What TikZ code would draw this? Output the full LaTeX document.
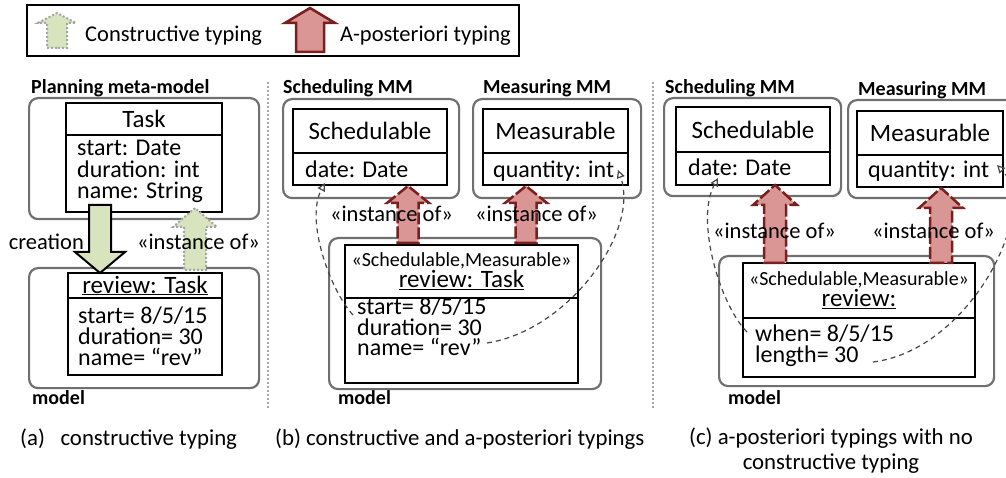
\documentclass[tikz,border=0pt]{standalone}
\usepackage{fontspec}
\setmainfont{Carlito}
\usetikzlibrary{positioning,calc,arrows.meta}

\definecolor{mmgray}{RGB}{112,112,112}
\definecolor{creagreen}{RGB}{215,228,189}
\definecolor{postred}{RGB}{217,150,148}
\definecolor{postdark}{RGB}{122,30,30}
\definecolor{dotgray}{RGB}{165,165,165}
\definecolor{depgray}{RGB}{70,70,70}

\newcommand{\stereofont}{\fontsize{20}{20}\selectfont}
\setlength{\lineskiplimit}{-30pt}

\begin{document}
\begin{tikzpicture}[x=1pt, y=-1pt,
    mmbox/.style={draw=mmgray, line width=2.2pt, rounded corners=9pt, anchor=north west, inner sep=0pt},
    clshead/.style={draw, line width=2pt, anchor=north west, inner sep=0pt, outer sep=0pt, align=center,
      font=\fontsize{25}{21}\selectfont},
    clsattr/.style={draw, line width=2pt, inner sep=0pt, outer sep=0pt},
    attrtext/.style={inner sep=0pt, align=left, font=\fontsize{24}{#1}\selectfont},
    attrtext/.default=20.5,
    title/.style={inner sep=0pt, anchor=base west, font=\fontsize{20}{20}\selectfont\bfseries},
    lbl/.style={inner sep=0pt, anchor=base, font=\fontsize{22.5}{24}\selectfont},
    caption/.style={inner sep=0pt, align=center, font=\fontsize{22.8}{25}\selectfont},
    blockarrow/.style args={#1/#2/#3}{to path={
      -- ($(\tikztostart)+(-#1,0)$) -- ($(\tikztotarget)+(-#1,#3)$)
      -- ($(\tikztotarget)+(-#2,#3)$) -- (\tikztotarget)
      -- ($(\tikztotarget)+(#2,#3)$) -- ($(\tikztotarget)+(#1,#3)$)
      -- ($(\tikztostart)+(#1,0)$) -- cycle}},
    creation/.style={draw, line width=2pt, fill=creagreen},
    constructive/.style={draw=dotgray, line width=2pt, dash pattern=on 2pt off 2pt, fill=creagreen},
    aposteriori/.style={draw=postdark, line width=2.5pt, dash pattern=on 12pt off 3pt, fill=postred},
    instof/.style={draw=depgray, line width=1.2pt, dash pattern=on 5pt off 4pt,
      -{Triangle[open,length=8pt,width=8pt]}},
    sepline/.style={draw=dotgray, line width=1.2pt, dash pattern=on 2pt off 2pt},
  ]
  \useasboundingbox (0,0) rectangle (1006,478);

  % legend
  \node[draw, line width=2pt, minimum width=492, minimum height=51, anchor=north west, inner sep=0pt] (legend) at (26,4) {};
  \coordinate (lgcbot) at (57,48); \coordinate (lgctip) at (57,13);
  \draw[constructive] (lgcbot) to[blockarrow=10/19/10] (lgctip);
  \node[lbl, anchor=base west] (lgctext) at (85,41.5) {Constructive typing};
  \coordinate (lgabot) at (310,52); \coordinate (lgatip) at (310,8);
  \draw[aposteriori, solid] (lgabot) to[blockarrow=14/25/15] (lgatip);
  \node[lbl, anchor=base west] (lgatext) at (340,41.5) {A-posteriori typing};

  % (a) constructive typing
  \node[title] (plantitle) at (31,94) {Planning meta-model};
  \node[mmbox, minimum width=230, minimum height=121] (planmm) at (28,97) {};
  \node[clshead, minimum width=156, minimum height=32] (task) at (66,103) {Task};
  \node[clsattr, minimum width=156, minimum height=77, below=0pt of task] (taskattr) {};
  \node[attrtext=21.5, below right=5pt and 11pt of taskattr.north west] (taskvals)
    {start: Date\\duration: int\\name: String};

  \node[title] (amodeltitle) at (32,404) {model};
  \node[mmbox, minimum width=230, minimum height=120] (amodel) at (28,267) {};
  \node[clshead, minimum width=154, minimum height=25] (reviewa) at (68,273) {\underline{review: Task}};
  \node[clsattr, minimum width=154, minimum height=77, below=0pt of reviewa] (reviewaattr) {};
  \node[attrtext=21, below right=9pt and 10pt of reviewaattr.north west] (reviewavals)
    {start= 8/5/15\\duration= 30\\name= “rev”};

  \coordinate (creatop) at (100,205); \coordinate (creatip) at (100,273);
  \draw[creation] (creatop) to[blockarrow=11/25/-21] (creatip);
  \coordinate (instabot) at (195,270); \coordinate (instatip) at (195,208);
  \draw[constructive] (instabot) to[blockarrow=11/22/19] (instatip);
  \node[lbl, anchor=base east] (crealbl) at (84,250) {creation};
  \node[lbl] (instalbl) at (198.5,250) {«instance of»};

  \draw[sepline] (268,82) -- (268,408);

  % (b) constructive and a-posteriori typings
  \node[title] (schedtitleb) at (283,94) {Scheduling MM};
  \node[mmbox, minimum width=176, minimum height=99] (schedmmb) at (282,98) {};
  \node[clshead, minimum width=154, minimum height=44] (schedb) at (293,109) {Schedulable};
  \node[clsattr, minimum width=154, minimum height=32, below=0pt of schedb] (schedbattr) {};
  \node[attrtext, below right=8pt and 12pt of schedbattr.north west] (schedbvals) {date: Date};

  \node[title] (meastitleb) at (483,94) {Measuring MM};
  \node[mmbox, minimum width=168, minimum height=99] (measmmb) at (472,98) {};
  \node[clshead, minimum width=145, minimum height=44] (measb) at (483,109) {Measurable};
  \node[clsattr, minimum width=145, minimum height=32, below=0pt of measb] (measbattr) {};
  \node[attrtext, below right=8pt and 10pt of measbattr.north west] (measbvals) {quantity: int};

  \node[title] (bmodeltitle) at (338,404) {model};
  \node[mmbox, minimum width=272, minimum height=151] (bmodel) at (328,237) {};
  \node[clshead, minimum width=233, minimum height=53] (reviewb) at (345,245)
    {{\stereofont «Schedulable,Measurable»}\\\underline{review: Task}};
  \node[clsattr, minimum width=233, minimum height=85, below=0pt of reviewb] (reviewbattr) {};
  \node[attrtext, below right=0pt and 12pt of reviewbattr.north west] (reviewbvals)
    {start= 8/5/15\\duration= 30\\name= “rev”};

  \coordinate (pb1bot) at (408,243); \coordinate (pb1tip) at (408,186);
  \draw[aposteriori] (pb1bot) to[blockarrow=10.5/21/17] (pb1tip);
  \coordinate (pb2bot) at (526,243); \coordinate (pb2tip) at (526,186);
  \draw[aposteriori] (pb2bot) to[blockarrow=10.5/21/17] (pb2tip);
  \node[lbl] (instb1) at (391.5,222) {«instance of»};
  \node[lbl] (instb2) at (536.5,222) {«instance of»};

  \coordinate (bstartpt) at (353,315); \coordinate (bdatept) at (325,183);
  \draw[instof] (bstartpt) .. controls (330,290) and (305,220) .. (bdatept);
  \coordinate (bdurpt) at (487,343); \coordinate (bqtypt) at (618,170);
  \draw[instof] (bdurpt) .. controls (570,330) and (640,230) .. (bqtypt);

  \draw[sepline] (653,82) -- (653,408);

  % (c) a-posteriori typings only
  \node[title] (schedtitlec) at (665,94) {Scheduling MM};
  \node[mmbox, minimum width=177, minimum height=98] (schedmmc) at (663,97) {};
  \node[clshead, minimum width=154, minimum height=45] (schedc) at (676,107) {Schedulable};
  \node[clsattr, minimum width=154, minimum height=33, below=0pt of schedc] (schedcattr) {};
  \node[attrtext, below right=7pt and 12pt of schedcattr.north west] (schedcvals) {date: Date};

  \node[title] (meastitlec) at (858,96) {Measuring MM};
  \node[mmbox, minimum width=170, minimum height=98] (measmmc) at (847,99) {};
  \node[clshead, minimum width=146, minimum height=44] (measc) at (857,111) {Measurable};
  \node[clsattr, minimum width=146, minimum height=32, below=0pt of measc] (meascattr) {};
  \node[attrtext, below right=6pt and 11pt of meascattr.north west] (meascvals) {quantity: int};

  \node[title] (cmodeltitle) at (728,404) {model};
  \node[mmbox, minimum width=275, minimum height=130] (cmodel) at (718,255) {};
  \node[clshead, minimum width=232, minimum height=55] (reviewc) at (743,263)
    {{\stereofont «Schedulable,Measurable»}\\\underline{review:}};
  \node[clsattr, minimum width=232, minimum height=59, below=0pt of reviewc] (reviewcattr) {};
  \node[attrtext, below right=7pt and 12pt of reviewcattr.north west] (reviewcvals)
    {when= 8/5/15\\length= 30};

  \coordinate (pc1bot) at (775,263); \coordinate (pc1tip) at (775,185);
  \draw[aposteriori] (pc1bot) to[blockarrow=11/22/20] (pc1tip);
  \coordinate (pc2bot) at (941,263); \coordinate (pc2tip) at (941,188);
  \draw[aposteriori] (pc2bot) to[blockarrow=11/22/20] (pc2tip);
  \node[lbl] (instc1) at (774.5,239) {«instance of»};
  \node[lbl] (instc2) at (933.5,239) {«instance of»};

  \coordinate (cwhenpt) at (747,332); \coordinate (cdatept) at (718,178);
  \draw[instof] (cwhenpt) .. controls (720,305) and (695,220) .. (cdatept);
  \coordinate (clenpt) at (873,362); \coordinate (cqtypt) at (997,165);
  \draw[instof] (clenpt) .. controls (970,350) and (1040,210) .. (cqtypt);

  % captions
  \node[caption, anchor=base west] (capa) at (20,445) {(a)\hspace{15.6pt}constructive typing};
  \node[caption, anchor=base west] (capb) at (275,445) {(b) constructive and a-posteriori typings};
  \node[caption, anchor=north] (capc) at (831,428) {(c) a-posteriori typings with no\\constructive typing};
\end{tikzpicture}
\end{document}
